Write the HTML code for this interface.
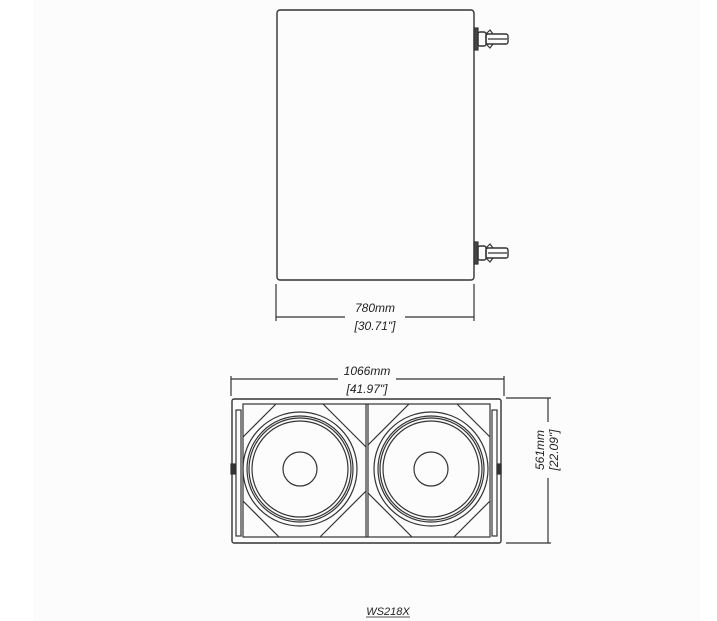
<!DOCTYPE html>
<html><head><style>
html,body{margin:0;padding:0;background:#fff;}
svg{display:block;}
text{font-family:"Liberation Sans",sans-serif;font-style:italic;fill:#222;}
</style></head><body>
<svg width="717" height="621" viewBox="0 0 717 621" xmlns="http://www.w3.org/2000/svg">
<rect x="33" y="0" width="667" height="621" fill="#fcfcfc"/>
<g fill="none" stroke="#333" stroke-width="1.2">
<rect x="277" y="10" width="197" height="270" rx="3" stroke-width="1.4"/>
<g id="h1">
<rect x="474" y="28" width="4" height="22" fill="#444"/>
<rect x="478" y="32" width="8" height="14" rx="2" stroke="#333" stroke-width="1.4"/>
<rect x="486" y="34" width="22" height="10" rx="2" stroke-width="1.4"/>
<line x1="488" y1="39" x2="507" y2="39"/>
<path d="M486 34 l4 -4 l3 4 M486 44 l4 4 l3 -4"/>
</g>
<use href="#h1" transform="translate(0,214)"/>
<line x1="276" y1="284" x2="276" y2="321"/>
<line x1="474" y1="284" x2="474" y2="321"/>
<line x1="276" y1="317" x2="345" y2="317"/>
<line x1="405" y1="317" x2="474" y2="317"/>
<rect x="232" y="399" width="269" height="144" rx="2" stroke-width="1.4"/>
<rect x="243" y="404" width="247" height="133"/>
<line x1="366" y1="404" x2="366" y2="537"/>
<line x1="368" y1="404" x2="368" y2="537"/>
<rect x="236" y="410" width="5" height="126"/>
<rect x="492" y="410" width="5" height="126"/>
<rect x="231" y="464" width="4" height="10" fill="#333"/>
<rect x="497" y="464" width="4" height="10" fill="#333"/>
<path d="M276 404 L243 437 M323 404 L366 447 M243 501 L279 537 M366 491 L320 537"/>
<path d="M409 404 L368 445 M457 404 L490 437 M368 493 L412 537 M490 501 L454 537"/>
<g id="w">
<circle cx="300" cy="469" r="57"/>
<circle cx="300" cy="469" r="53"/>
<circle cx="300" cy="469" r="51"/>
<circle cx="300" cy="469" r="48"/>
<circle cx="300" cy="469" r="17"/>
</g>
<use href="#w" transform="translate(131,0)"/>
<line x1="231" y1="376" x2="231" y2="396"/>
<line x1="504" y1="376" x2="504" y2="396"/>
<line x1="231" y1="379" x2="338" y2="379"/>
<line x1="396" y1="379" x2="504" y2="379"/>
<line x1="506" y1="398" x2="551" y2="398"/>
<line x1="506" y1="543" x2="551" y2="543"/>
<line x1="548" y1="398" x2="548" y2="422"/>
<line x1="548" y1="478" x2="548" y2="543"/>
</g>
<text x="375" y="312" font-size="12" text-anchor="middle">780mm</text>
<text x="375" y="330" font-size="12" text-anchor="middle">[30.71"]</text>
<text x="367" y="375" font-size="12" text-anchor="middle">1066mm</text>
<text x="367" y="393" font-size="12" text-anchor="middle">[41.97"]</text>
<text transform="translate(544,450) rotate(-90)" font-size="12" text-anchor="middle">561mm</text>
<text transform="translate(558,450) rotate(-90)" font-size="12" text-anchor="middle">[22.09"]</text>
<text x="388" y="615" font-size="11" text-anchor="middle">WS218X</text>
<line x1="366" y1="617" x2="410" y2="617" stroke="#555" stroke-width="1"/>
</svg>
</body></html>
